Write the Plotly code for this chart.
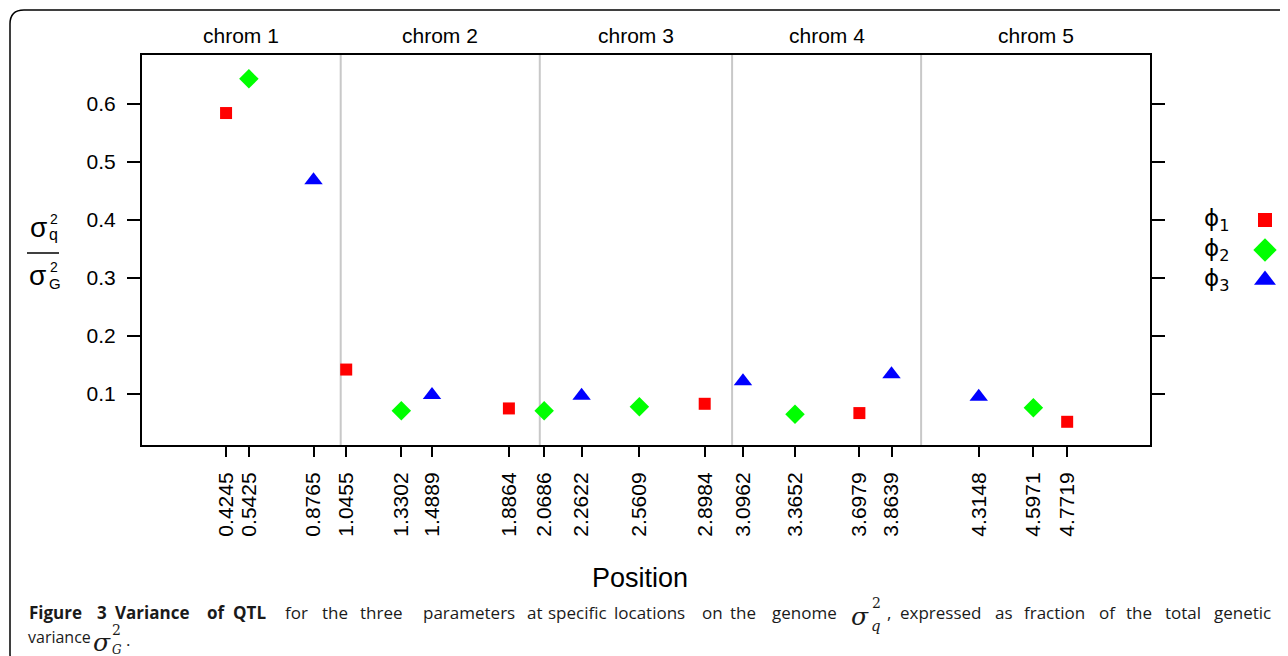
import plotly.graph_objects as go

# ---- data ----
positions = [0.4245, 0.5425, 0.8765, 1.0455, 1.3302, 1.4889, 1.8864, 2.0686, 2.2622,
             2.5609, 2.8984, 3.0962, 3.3652, 3.6979, 3.8639, 4.3148, 4.5971, 4.7719]
tick_labels = [f"{p:.4f}" for p in positions]

phi1_x = [0.4245, 1.0455, 1.8864, 2.8984, 3.6979, 4.7719]
phi1_y = [0.584, 0.142, 0.075, 0.083, 0.067, 0.052]
phi2_x = [0.5425, 1.3302, 2.0686, 2.5609, 3.3652, 4.5971]
phi2_y = [0.643, 0.071, 0.071, 0.078, 0.065, 0.076]
phi3_x = [0.8765, 1.4889, 2.2622, 3.0962, 3.8639, 4.3148]
phi3_y = [0.468, 0.098, 0.097, 0.122, 0.134, 0.095]

series_names = ["ϕ1", "ϕ2", "ϕ3"]
series_colors = ["#ff0000", "#00ff00", "#0000ff"]
series_symbols = ["square", "diamond", "triangle-up"]

chrom_names = ["chrom 1", "chrom 2", "chrom 3", "chrom 4", "chrom 5"]
chrom_bounds = [1.017, 2.046, 3.04, 4.017]
x_range = [-0.01, 5.2]
y_range = [0.012, 0.684]
y_ticks = [0.1, 0.2, 0.3, 0.4, 0.5, 0.6]

caption_bold = ["Figure", "3", "Variance", "of", "QTL"]
caption_words_1 = ["for", "the", "three", "parameters", "at", "specific",
                   "locations", "on", "the", "genome"]
caption_words_2 = ["expressed", "as", "fraction", "of", "the", "total", "genetic"]

# page has an 8px body margin; the figure fills the rest of the window
OFF = 8
W, H = 1280, 648
PL, PR, PT, PB = 142, 1150, 55, 445


def px(xp):
    return (xp - OFF) / W


def py(yp):
    return (H - (yp - OFF)) / H


FONT = "Liberation Sans, Arial, sans-serif"

fig = go.Figure()
for xs, ys, nm, col, sym, sz in zip([phi1_x, phi2_x, phi3_x], [phi1_y, phi2_y, phi3_y],
                                    series_names, series_colors, series_symbols, [12, 15, 16]):
    fig.add_trace(go.Scatter(x=xs, y=ys, mode="markers", name=nm,
                             marker=dict(symbol=sym, color=col, size=sz, opacity=1)))

# legend keys on a small separate axis
for i, (col, sym, sz) in enumerate(zip(series_colors, series_symbols, [14, 18, 19])):
    fig.add_trace(go.Scatter(x=[0], y=[3 - i], mode="markers", xaxis="x2", yaxis="y2",
                             marker=dict(symbol=sym, color=col, size=sz, opacity=1),
                             showlegend=False, hoverinfo="skip"))

shapes = []
for b in chrom_bounds:
    shapes.append(dict(type="line", xref="x", yref="y domain", x0=b, x1=b, y0=0, y1=1,
                       line=dict(color="#c8c8c8", width=2), layer="below"))

# fraction line for y label
shapes.append(dict(type="line", xref="paper", yref="paper", x0=px(27), x1=px(59),
                   y0=py(253), y1=py(253), line=dict(color="black", width=1.5)))

# outer rounded border
x0, x1, y0, y1, r = 10, 1300, 10, 668, 14
path = (f"M {px(x0)},{py(y0 + r)} Q {px(x0)},{py(y0)} {px(x0 + r)},{py(y0)} "
        f"L {px(x1 - r)},{py(y0)} Q {px(x1)},{py(y0)} {px(x1)},{py(y0 + r)} "
        f"L {px(x1)},{py(y1 - r)} Q {px(x1)},{py(y1)} {px(x1 - r)},{py(y1)} "
        f"L {px(x0 + r)},{py(y1)} Q {px(x0)},{py(y1)} {px(x0)},{py(y1 - r)} Z")
shapes.append(dict(type="path", xref="paper", yref="paper", path=path,
                   line=dict(color="black", width=1.5)))

annotations = []


def ann(text, x, y, size, family=FONT, xanchor="center", color="black", xref="paper"):
    annotations.append(dict(x=x if xref != "paper" else px(x), y=py(y), xref=xref, yref="paper",
                            text=text, showarrow=False, xanchor=xanchor, yanchor="middle",
                            font=dict(family=family, size=size, color=color)))


edges = [x_range[0]] + chrom_bounds + [x_range[1]]
for i, nm in enumerate(chrom_names):
    ann(nm, (edges[i] + edges[i + 1]) / 2, 36, 21, xref="x")

# y-axis label pieces
ann("σ", 38.5, 228, 28)
ann("2", 54, 219, 14)
ann("q", 53.5, 234, 16)
ann("σ", 37.5, 276, 28)
ann("2", 54, 267, 14)
ann("G", 55, 283, 15)

# legend text
LEGF = "DejaVu Sans, sans-serif"
for i, yy in enumerate([220, 250, 280]):
    ann(f"ϕ<sub>{i + 1}</sub>", 1202, yy, 23, family=LEGF, xanchor="left")

# x axis title
ann("Position", 640, 578, 27)

# caption (justified first line: words placed individually)
CAP = "Open Sans, sans-serif"
CAPC = "#1a1a1a"
CS = 17
bold_x = [27, 95, 113, 205, 231]
for w, xx in zip(caption_bold, bold_x):
    ann(f"<b>{w}</b>", xx, 612, CS, family=CAP, xanchor="left", color=CAPC)
word_x = [283, 320, 358, 421, 525, 546, 612, 700, 728, 770]
for w, xx in zip(caption_words_1, word_x):
    ann(w, xx, 612, CS, family=CAP, xanchor="left", color=CAPC)
ann(",", 885, 612, CS, family=CAP, xanchor="left", color=CAPC)
word_x2 = [898, 993, 1022, 1097, 1124, 1163, 1212]
for w, xx in zip(caption_words_2, word_x2):
    ann(w, xx, 612, CS, family=CAP, xanchor="left", color=CAPC)
ann("variance", 26, 637, 16, family=CAP, xanchor="left", color=CAPC)
ann(".", 124, 639, 17, family=CAP, xanchor="left", color=CAPC)

SERIF = "DejaVu Serif, serif"
ann("<i>σ</i>", 860, 616, 25, family=SERIF, color=CAPC)
ann("2", 876, 603, 14, family=SERIF, color=CAPC)
ann("<i>q</i>", 876, 626, 15, family=SERIF, color=CAPC)
ann("<i>σ</i>", 102, 642, 25, family=SERIF, color=CAPC)
ann("2", 116, 630, 14, family=SERIF, color=CAPC)
ann("<i>G</i>", 117, 650, 12, family=SERIF, color=CAPC)

axis_font = dict(family=FONT, size=21, color="black")
fig.update_layout(
    width=W, height=H,
    margin=dict(l=0, r=0, t=0, b=0, pad=0),
    paper_bgcolor="white", plot_bgcolor="white",
    showlegend=False,
    xaxis=dict(domain=[px(PL), px(PR)], range=x_range, tickmode="array", tickvals=positions,
               ticktext=tick_labels, tickangle=-90, ticks="outside", ticklen=10, tickwidth=1.5,
               tickcolor="black", showline=True, linecolor="black", linewidth=2, mirror=True,
               ticklabelstandoff=7,
               showgrid=False, zeroline=False, tickfont=axis_font, automargin=False),
    yaxis=dict(domain=[py(PB), py(PT)], range=y_range, tickmode="array", tickvals=y_ticks,
               ticktext=[f"{v:.1f}" for v in y_ticks],
               ticks="outside", ticklen=13, tickwidth=1.5, tickcolor="black",
               showline=True, linecolor="black", linewidth=2, mirror="ticks",
               ticklabelstandoff=7,
               showgrid=False, zeroline=False, tickfont=axis_font, automargin=False),
    xaxis2=dict(domain=[px(1252), px(1278)], range=[-1, 1], visible=False, anchor="y2"),
    yaxis2=dict(domain=[py(295), py(205)], range=[0.5, 3.5], visible=False, anchor="x2"),
    shapes=shapes, annotations=annotations,
)

fig.write_html("out.html")
